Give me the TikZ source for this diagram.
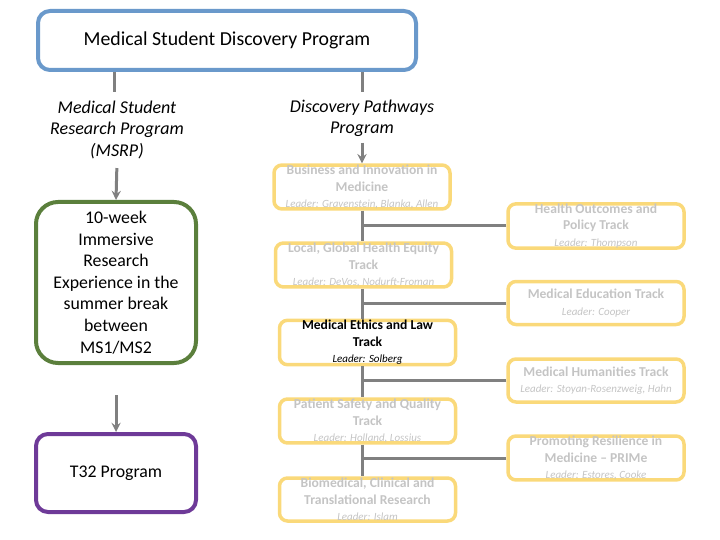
\documentclass[tikz,border=0pt]{standalone}
\usepackage{fontspec}
\setmainfont{Carlito}
\usepackage{xcolor}
\definecolor{topblue}{HTML}{6A99CB}
\definecolor{msrpgreen}{HTML}{5B7F3C}
\definecolor{tpurple}{HTML}{6E3A98}
\definecolor{trackgold}{HTML}{FAD97A}
\definecolor{fadetext}{HTML}{C4C4C4}
\definecolor{linkgray}{HTML}{808080}

\newcommand{\trackname}[2]{#1\\[0pt]{\fontsize{11}{12}\selectfont\mdseries\itshape Leader: #2}}

\tikzset{
    trackbox/.style = {draw = trackgold, line width = 3.5pt, rounded corners = 8pt, minimum width = 176pt, minimum height = 43pt, inner sep = 0pt, align = center, text = fadetext, font = \fontsize{13.6}{16.5}\selectfont\bfseries},
    label text/.style = {align = center, font = \fontsize{18}{21.5}\selectfont\itshape},
    link/.style = {linkgray, line width = 3pt},
    flow/.style = {->, > = stealth, linkgray, line width = 3pt}
}

\begin{document}
\begin{tikzpicture}[x = 1pt, y = -1pt]
        \useasboundingbox (0, 0) rectangle (720, 540);

        % Nodes
        \node [draw = topblue, line width = 4pt, rounded corners = 12pt, minimum width = 378pt, minimum height = 59pt, font = \fontsize{19.8}{22}\selectfont] (top) at (227, 40.5) {Medical Student Discovery Program};
        \node [label text] (msrp) at (117, 129.5) {Medical Student\\Research Program\\(MSRP)};
        \node [label text] (dpp) at (362, 118.5) {Discovery Pathways\\Program};
        \node [draw = msrpgreen, line width = 4pt, rounded corners = 22pt, minimum width = 160pt, minimum height = 161pt, align = center, font = \fontsize{17.8}{21.6}\selectfont] (tenweek) at (116, 282.5) {10-week\\Immersive\\Research\\Experience in the\\summer break\\between\\MS1/MS2};
        \node [draw = tpurple, line width = 4pt, rounded corners = 12pt, minimum width = 160pt, minimum height = 78pt, font = \fontsize{17.8}{20}\selectfont] (tprog) at (116, 473) {T32 Program};

        \node [trackbox] (biz) at (362, 187) {\trackname{Business and Innovation in\\Medicine}{Gravenstein, Blanka, Allen}};
        \node [trackbox] (local) at (363.5, 265) {\trackname{Local, Global Health Equity\\Track}{DeVos, Nodurft-Froman}};
        \node [trackbox, text = black] (ethics) at (367.5, 342.5) {\trackname{Medical Ethics and Law\\Track}{Solberg}};
        \node [trackbox] (safety) at (367.5, 421) {\trackname{Patient Safety and Quality\\Track}{Holland, Lossius}};
        \node [trackbox] (bio) at (367.5, 499.5) {\trackname{Biomedical, Clinical and\\Translational Research}{Islam}};

        \node [trackbox] (health) at (596, 226) {\trackname{Health Outcomes and\\Policy Track}{Thompson}};
        \node [trackbox] (edu) at (596, 303) {\trackname{Medical Education Track}{Cooper}};
        \node [trackbox] (hum) at (596, 380.5) {\trackname{Medical Humanities Track}{Stoyan-Rosenzweig, Hahn}};
        \node [trackbox] (prime) at (596, 458) {\trackname{Promoting Resilience in\\Medicine -- PRIMe}{Estores, Cooke}};

        \coordinate (stubA) at (114, 92);
        \coordinate (stubB) at (362, 92);

        % Draw the links
        \draw [link] (stubA |- top.south) -- (stubA);
        \draw [link] (stubB |- top.south) -- (stubB);
        \draw [flow, shorten <= 6pt] (msrp.south) -- (tenweek.north);
        \draw [flow, shorten <= 30pt] (tenweek.south) -- (tprog.north);
        \draw [flow, shorten <= 2pt] (dpp.south) -- (biz.north);

        % Spine between the tracks
        \draw [link] (biz.south) -- (biz.south |- local.north);
        \draw [link] (biz.south |- local.south) -- (biz.south |- ethics.north);
        \draw [link] (biz.south |- ethics.south) -- (biz.south |- safety.north);
        \draw [link] (biz.south |- safety.south) -- (biz.south |- bio.north);

        % Branches to the right column
        \draw [link] (health.west) -- (health.west -| biz.south);
        \draw [link] (edu.west) -- (edu.west -| biz.south);
        \draw [link] (hum.west) -- (hum.west -| biz.south);
        \draw [link] (prime.west) -- (prime.west -| biz.south);

    \end{tikzpicture}
\end{document}
